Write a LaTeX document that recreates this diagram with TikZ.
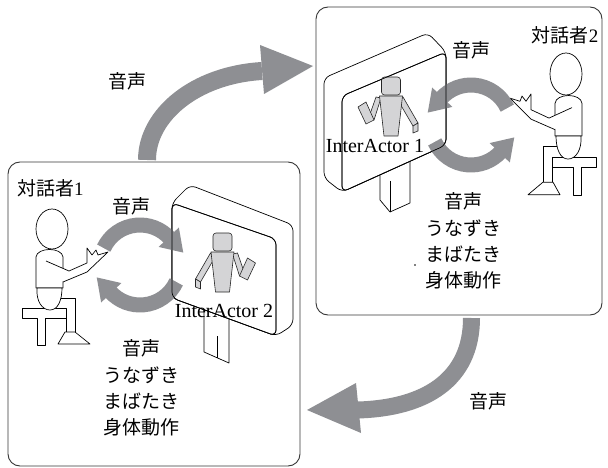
\documentclass[tikz,border=0pt]{standalone}
\usepackage{fontspec}
\setmainfont{Liberation Serif}
\newfontfamily\jp{Noto Sans CJK JP}
\usetikzlibrary{calc}

\definecolor{arrowgray}{RGB}{142,143,147}
\definecolor{robotgray}{RGB}{212,212,214}
\definecolor{framegray}{RGB}{55,55,55}

\tikzset{
  frame/.style={draw=framegray,line width=0.9pt,rounded corners=12pt,fill=white,outer sep=0pt,inner sep=0pt},
  figline/.style={draw=black,line width=0.7pt,fill=white,line join=round},
  robotpart/.style={draw=black!85,line width=0.6pt,fill=robotgray,line join=round},
  flow/.style={draw=arrowgray,line width=18pt},
  cyc/.style={draw=arrowgray,line width=15pt},
  jptext/.style={font=\fontsize{19}{19}\selectfont\jp,inner sep=0pt},
  block/.style={font=\fontsize{19}{26.3}\selectfont\jp,align=center,inner sep=0pt},
  robotlabel/.style={font=\fontsize{20}{20}\selectfont,inner sep=0pt},
  % seated person, origin at the centre of the head
  person/.pic={
    % stool
    \path[figline] (-30,79) -- (18,79) -- (18,89) -- (-7,89) -- (-7,116) -- (-15,116) -- (-15,89) -- (-30,89) -- cycle;
    % thigh and shin
    \path[figline] (2,69) -- (23,69) -- (23,103) -- (14,103) -- (14,79) -- (2,79) -- cycle;
    % foot
    \path[figline] (13,103) -- (23,103) -- (38,115) -- (6,115) -- cycle;
    % torso
    \path[figline] (-16,59) -- (-16,28) .. controls (-15,18) and (10,18) .. (11,28) -- (11,59) -- cycle;
    % hips
    \path[figline] (-15,59) .. controls (-16,72) and (-10,81) .. (-2,81)
                   .. controls (6,81) and (10,71) .. (10,59) -- cycle;
    % arm with open hand
    \fill[white] (-6,32) -- (17,42) -- (35,34) -- (35,19) -- (40,26) -- (44,21) -- (46,26)
                 -- (56,23) -- (35,43) -- (11,53) -- cycle;
    \draw[line width=0.7pt,line join=round] (-6,32) -- (17,42) -- (35,34) -- (35,19) -- (40,26)
                 -- (44,21) -- (46,26) -- (56,23) -- (35,43) -- (11,53);
    % head
    \path[figline] (0,0) ellipse [x radius=16, y radius=20];
  },
  % robot figure, origin at the centre of the head
  robot/.pic={
    \path[robotpart] (-12,11) -- (-8,16) -- (-22,40) -- (-27,37) -- cycle;
    \path[robotpart] (-27,37) -- (-22,40) -- (-22,47) -- (-27,45) -- cycle;
    \path[robotpart] (10,12) -- (15,11) -- (22,31) -- (17,34) -- cycle;
    \path[robotpart] (17,34) -- (25,38) -- (33,21) -- (25,16) -- cycle;
    \path[robotpart] (-11.5,10) -- (11.5,10) -- (7,50) -- (-7,50) -- cycle;
    \path[robotpart,rounded corners=3pt] (-9.5,-9) rectangle (9.5,9);
  },
  % pair of circular arrows around the origin
  cycpair/.pic={
    \draw[cyc] (-155:40) arc[start angle=-155,end angle=-42,radius=40];
    \fill[arrowgray] (-44:26) -- (-16:45) -- (-44:54) -- cycle;
    \draw[cyc] (25:40) arc[start angle=25,end angle=138,radius=40];
    \fill[arrowgray] (136:26) -- (164:45) -- (136:54) -- cycle;
  }
}

\begin{document}
\begin{tikzpicture}[x=1pt,y=-1pt]
\useasboundingbox (0,0) rectangle (608,468);

% the two rooms
\node[frame,minimum width=292pt,minimum height=304pt] (room1) at (154,314) {};
\node[frame,minimum width=286pt,minimum height=308pt] (room2) at (459,161) {};

% speech transmitted between the rooms
\coordinate (out1) at (147,160);
\coordinate (in2) at (262,71);
\draw[flow] (out1) .. controls (147,115) and (195,75) .. (in2);
\fill[arrowgray] (260,45) -- (313,66) -- (264,94) -- cycle;

\coordinate (out2) at (471.5,318);
\coordinate (in1) at (358,410);
\draw[flow,line width=17pt] (out2) .. controls (471.5,380) and (425,408) .. (in1);
\fill[arrowgray] (356,383) -- (307,410) -- (361,433) -- cycle;

% speakers
\pic at (52,229) {person};
\pic[xscale=-1,yscale=1.05] at (566,74) {person};

% InterActor 2 screen
\path[figline] (204,300) -- (204,352) -- (229,363) -- (229,300) -- cycle;
\draw[line width=0.7pt] (217,336) -- (217,357.7);
\path[figline,rounded corners=6pt] (172,298) -- (172,203) -- (190,185) -- (293,225) -- (293,325) -- (276,336) -- cycle;
\path[figline,rounded corners=6pt] (172,203) -- (276,239) -- (276,336) -- (172,298) -- cycle;
\pic at (222.5,242) {robot};

% InterActor 1 screen
\path[figline] (380,168) -- (380,200) -- (390,212) -- (410,203) -- (410,158) -- cycle;
\draw[line width=0.7pt] (390,181) -- (390,212);
\path[figline,rounded corners=6pt] (446,145) -- (446,52) -- (428,33) -- (324,78) -- (324,178) -- (342,192) -- cycle;
\path[figline,rounded corners=6pt] (342,96) -- (446,52) -- (446,145) -- (342,192) -- cycle;
\pic[xscale=-1] at (391,86) {robot};

% interaction loops
\pic at (140,265) {cycpair};
\pic[xscale=-1] at (471,125) {cycpair};

% screen edges over the loops
\draw[line width=0.7pt,rounded corners=6pt] (172,203) -- (276,239) -- (276,336) -- (172,298) -- cycle;
\draw[line width=0.7pt,rounded corners=6pt] (342,96) -- (446,52) -- (446,145) -- (342,192) -- cycle;

\fill (415,265) circle (0.8);

% labels
\node[jptext] (v0) at (127,81) {音声};
\node[jptext] (v3) at (488,401) {音声};
\node[jptext,anchor=west] (p1) at (17,188) {対話者{\rmfamily 1}};
\node[jptext] (p2) at (565,35) {対話者{\rmfamily 2}};
\node[jptext] (v1) at (131,206) {音声};
\node[jptext] (v2) at (471,50) {音声};
\node[robotlabel] (r2) at (224,311) {InterActor 2};
\node[robotlabel] (r1) at (375,146) {InterActor 1};
\node[block] (m1) at (141,388) {音声\\うなずき\\まばたき\\身体動作};
\node[block] (m2) at (463,241) {音声\\うなずき\\まばたき\\身体動作};
\end{tikzpicture}
\end{document}
